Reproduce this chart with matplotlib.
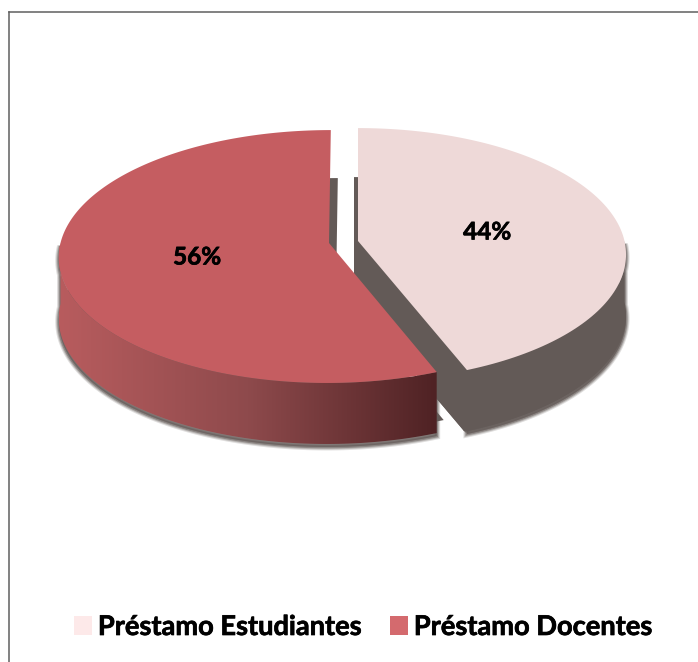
import numpy as np
import matplotlib
matplotlib.use('Agg')
import matplotlib.pyplot as plt
import matplotlib.patheffects as pe
from matplotlib.colors import LinearSegmentedColormap
from matplotlib.lines import Line2D
from matplotlib.patches import Patch, Polygon, Wedge
from matplotlib.path import Path
from matplotlib.transforms import Affine2D, Transform

categories = ['Préstamo Estudiantes', 'Préstamo Docentes']
percents = [44, 56]
top_colors = ['#EED9D8', '#C55D61']
legend_colors = ['#FDE9E9', '#D46A6E']
shadow_color = '#635A57'

plt.rcParams['font.family'] = ['Lato', 'DejaVu Sans']


class Tilt(Transform):
    # puts the flat pie in perspective, y goes down like in the picture
    input_dims = 2
    output_dims = 2

    def __init__(self, cx, cy, a, skew=0.0, b=125.0, k=0.107):
        super().__init__()
        self.cx, self.cy, self.a, self.skew, self.b, self.k = cx, cy, a, skew, b, k

    def transform_non_affine(self, xy):
        xy = np.asarray(xy)
        w = 1 + self.k * xy[:, 1]
        x = self.cx + (self.a * xy[:, 0] + self.skew * xy[:, 1]) / w
        return np.column_stack([x, self.cy - self.b * xy[:, 1] / w])

    def transform_path_non_affine(self, path):
        # flatten the curves first, bezier handles do not survive the perspective
        poly = path.to_polygons(Affine2D().scale(2000), closed_only=False)[0] / 2000
        return Path(self.transform_non_affine(poly))


def rim(tilt, t1, t2):
    t = np.radians(np.linspace(t1, t2, 160))
    return tilt.transform_non_affine(np.column_stack([np.cos(t), np.sin(t)]))


fig = plt.figure(figsize=(6.98, 6.62), dpi=100)
ax = fig.add_axes([0, 0, 1, 1])
wedges, _ = ax.pie(percents, startangle=90, counterclock=False, colors=top_colors)
ax.set_aspect('auto')
pink, red = wedges
depth = 61
pink_a = 266.5
red_a = 268.5
apex_pink = (358, 241)
apex_red = (329, 243)


def copy_wedge(src, tilt, color, z, alpha=1.0):
    patch = Wedge((0, 0), 1, src.theta1, src.theta2, fc=color, ec='none', alpha=alpha, zorder=z)
    patch.set_transform(tilt + ax.transData)
    ax.add_patch(patch)


def halo(poly, z):
    # soft edge under the wall, pushed down so it stays off the top face
    for lw, al in [(5, .2), (3.5, .3), (2, .5)]:
        ax.add_patch(Polygon(poly + [0, 3], closed=True, fc=shadow_color, ec=shadow_color, lw=lw, alpha=al, zorder=z))


# pink slice: soft shadow, wall and top
for off, al in [(3, .25), (2, .4), (1, .6)]:
    copy_wedge(pink, Tilt(apex_pink[0] - 3 + off, apex_pink[1] + depth + off, pink_a), shadow_color, 1, al)
copy_wedge(pink, Tilt(apex_pink[0] - 4, apex_pink[1] + 49, pink_a), shadow_color, 2)
copy_wedge(pink, Tilt(apex_pink[0] - 3, apex_pink[1] + depth, pink_a), shadow_color, 2)
tilt = Tilt(*apex_pink, pink_a)
front = rim(tilt, pink.theta1, 0)
wall = np.vstack([front, (front + [0, depth])[::-1]])
halo(wall, 1)
ax.add_patch(Polygon(wall, closed=True, fc=shadow_color, ec='none', zorder=3))
pink.set_transform(tilt + ax.transData)
pink.set_zorder(4)

# red slice: shadow, gradient wall and top
copy_wedge(red, Tilt(apex_red[0] + 7, apex_red[1] + 48, red_a, 2), shadow_color, 5)
tilt = Tilt(*apex_red, red_a, 2)
front = rim(tilt, 180, red.theta2 + 360)
wall = np.vstack([front, (front + [0, depth])[::-1]])
halo(wall, 5)
grad = LinearSegmentedColormap.from_list('wall', ['#B85C5E', '#8E4A4C', '#4F2224'])
im = ax.imshow(np.linspace(0, 1, 256)[None, :], cmap=grad, aspect='auto', zorder=6,
               extent=[front[:, 0].min(), front[:, 0].max(), 662, 0])
im.set_clip_path(Polygon(wall, closed=True, transform=ax.transData))
red.set_transform(tilt + ax.transData)
red.set_zorder(7)
ax.set_xlim(0, 698)
ax.set_ylim(662, 0)
ax.axis('off')

thick = [pe.withStroke(linewidth=0.5, foreground='black')]
ax.text(487, 232, f'{percents[0]}%', ha='center', va='center', fontsize=17.5, fontweight='bold',
        color='black', zorder=10, path_effects=thick)
ax.text(197, 257, f'{percents[1]}%', ha='center', va='center', fontsize=17.5, fontweight='bold',
        color='black', zorder=10, path_effects=thick)

# legend
handles = [Patch(fc=c, ec='none') for c in legend_colors]
leg = ax.legend(handles, categories, ncol=2, loc='center', bbox_to_anchor=(363 / 698, 1 - 627 / 662),
                frameon=False, prop={'size': 19.6, 'weight': 'bold'}, handlelength=0.68, handleheight=0.68,
                handletextpad=0.2, columnspacing=1.05)
for t in leg.get_texts():
    t.set_path_effects(thick)

# chart frame, only top and left show in the crop
ax.add_line(Line2D([8.5, 698], [11.5, 11.5], color='#5F5F5F', lw=1.1, zorder=11))
ax.add_line(Line2D([8.5, 8.5], [11.5, 662], color='#5F5F5F', lw=1.1, zorder=11))

fig.savefig('out.png', dpi=100)
